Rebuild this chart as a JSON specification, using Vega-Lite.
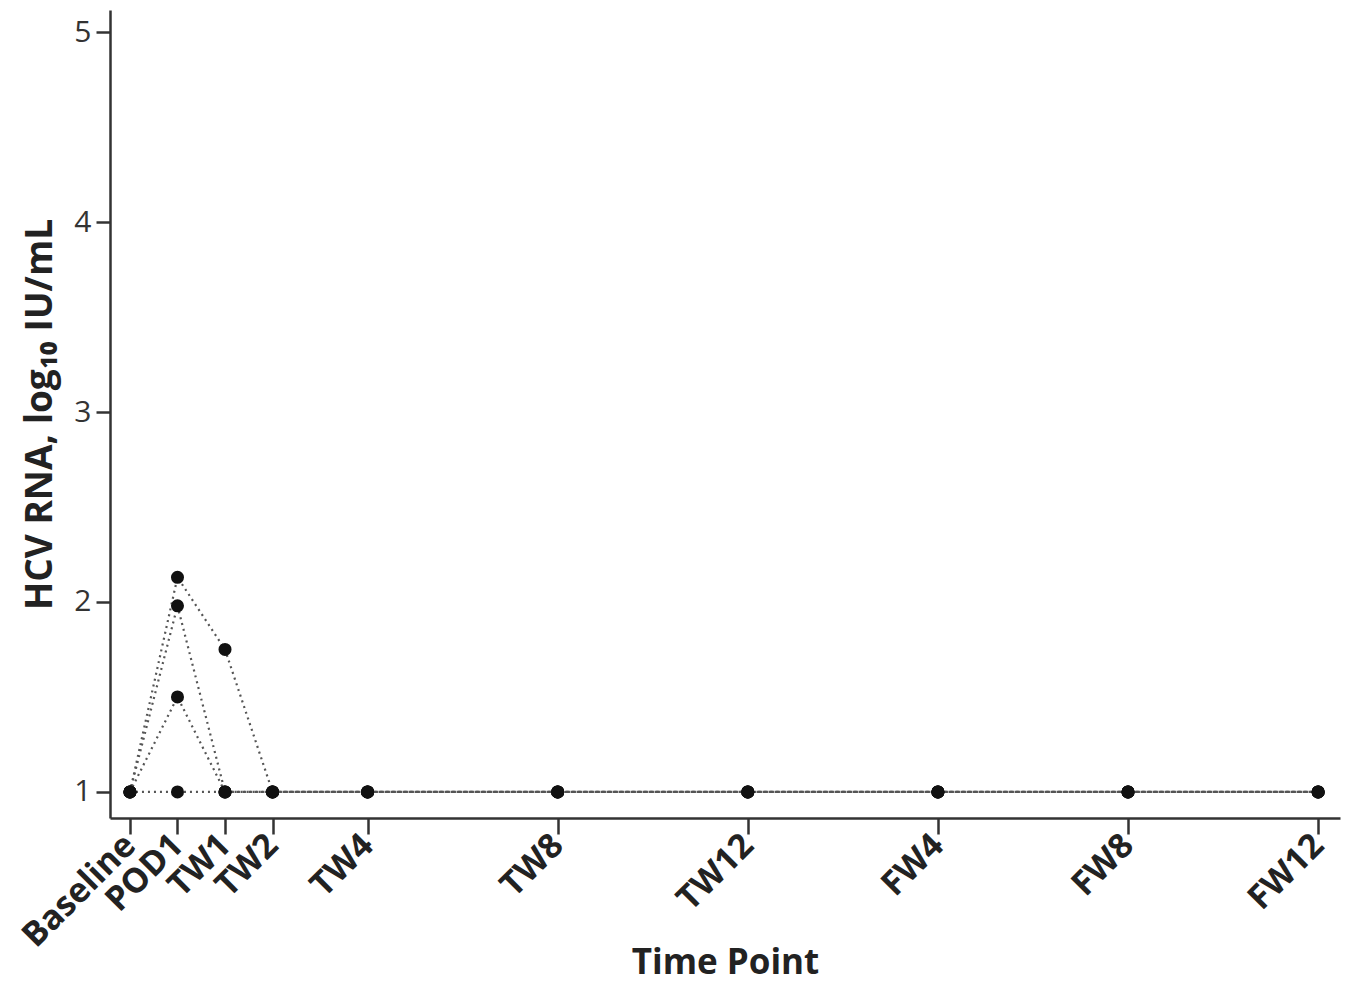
{
  "$schema": "https://vega.github.io/schema/vega-lite/v6.json",
  "width": 1230,
  "height": 808,
  "autosize": "none",
  "padding": {"left": 110, "top": 10, "right": 8, "bottom": 172},
  "background": "white",
  "config": {"view": {"stroke": null}, "font": "Open Sans"},
  "data": {"values": [
    {"patient": "A", "pos": 0, "value": 1},
    {"patient": "A", "pos": 1, "value": 2.13},
    {"patient": "A", "pos": 2, "value": 1.75},
    {"patient": "A", "pos": 3, "value": 1},
    {"patient": "A", "pos": 5, "value": 1},
    {"patient": "A", "pos": 9, "value": 1},
    {"patient": "A", "pos": 13, "value": 1},
    {"patient": "A", "pos": 17, "value": 1},
    {"patient": "A", "pos": 21, "value": 1},
    {"patient": "A", "pos": 25, "value": 1},
    {"patient": "B", "pos": 0, "value": 1},
    {"patient": "B", "pos": 1, "value": 1.98},
    {"patient": "B", "pos": 2, "value": 1},
    {"patient": "B", "pos": 3, "value": 1},
    {"patient": "B", "pos": 5, "value": 1},
    {"patient": "B", "pos": 9, "value": 1},
    {"patient": "B", "pos": 13, "value": 1},
    {"patient": "B", "pos": 17, "value": 1},
    {"patient": "B", "pos": 21, "value": 1},
    {"patient": "B", "pos": 25, "value": 1},
    {"patient": "C", "pos": 0, "value": 1},
    {"patient": "C", "pos": 1, "value": 1.5},
    {"patient": "C", "pos": 2, "value": 1},
    {"patient": "C", "pos": 3, "value": 1},
    {"patient": "C", "pos": 5, "value": 1},
    {"patient": "C", "pos": 9, "value": 1},
    {"patient": "C", "pos": 13, "value": 1},
    {"patient": "C", "pos": 17, "value": 1},
    {"patient": "C", "pos": 21, "value": 1},
    {"patient": "C", "pos": 25, "value": 1},
    {"patient": "D", "pos": 0, "value": 1},
    {"patient": "D", "pos": 1, "value": 1},
    {"patient": "D", "pos": 2, "value": 1},
    {"patient": "D", "pos": 3, "value": 1},
    {"patient": "D", "pos": 5, "value": 1},
    {"patient": "D", "pos": 9, "value": 1},
    {"patient": "D", "pos": 13, "value": 1},
    {"patient": "D", "pos": 17, "value": 1},
    {"patient": "D", "pos": 21, "value": 1},
    {"patient": "D", "pos": 25, "value": 1}
  ]},
  "encoding": {
    "x": {
      "field": "pos", "type": "quantitative",
      "scale": {"domain": [-0.42, 25.46], "nice": false, "zero": false},
      "axis": {
        "values": [0, 1, 2, 3, 5, 9, 13, 17, 21, 25],
        "labelExpr": "datum.value == 0 ? 'Baseline' : datum.value == 1 ? 'POD1' : datum.value == 2 ? 'TW1' : datum.value == 3 ? 'TW2' : datum.value == 5 ? 'TW4' : datum.value == 9 ? 'TW8' : datum.value == 13 ? 'TW12' : datum.value == 17 ? 'FW4' : datum.value == 21 ? 'FW8' : 'FW12'",
        "grid": false,
        "labelAngle": -45,
        "labelAlign": "right",
        "labelBaseline": "middle",
        "labelFontSize": 34,
        "labelFontWeight": "bold",
        "labelColor": "#222",
        "labelPadding": 6,
        "labelFlush": false,
        "labelOverlap": false,
        "tickSize": 16,
        "tickWidth": 2.5,
        "tickColor": "#333",
        "domainColor": "#333",
        "domainWidth": 2.5,
        "title": "Time Point",
        "titleFontSize": 35,
        "titleFontWeight": "bold",
        "titleColor": "#222",
        "titlePadding": -8
      }
    },
    "y": {
      "field": "value", "type": "quantitative",
      "scale": {"domain": [0.863, 5.116], "nice": false, "zero": false},
      "axis": {
        "values": [1, 2, 3, 4, 5],
        "grid": false,
        "labelFontSize": 30,
        "labelColor": "#333",
        "labelPadding": 5,
        "labelFlush": false,
        "tickSize": 14,
        "tickWidth": 2.5,
        "tickColor": "#333",
        "domainColor": "#333",
        "domainWidth": 2.5,
        "title": "HCV RNA, log₁₀ IU/mL",
        "titleFontSize": 37,
        "titleFontWeight": "bold",
        "titleColor": "#222",
        "titlePadding": 14
      }
    }
  },
  "layer": [
    {
      "mark": {"type": "line", "color": "#555", "strokeWidth": 2.2, "strokeDash": [2, 4]},
      "encoding": {"detail": {"field": "patient"}}
    },
    {
      "mark": {"type": "point", "filled": true, "color": "#111", "opacity": 1, "size": 170},
      "encoding": {}
    }
  ]
}
